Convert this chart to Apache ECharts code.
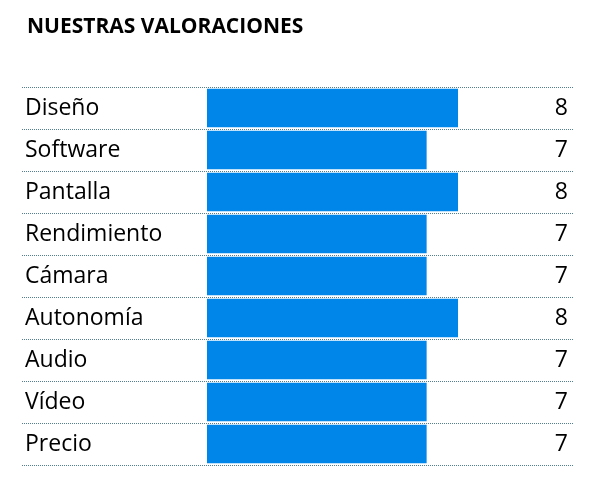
<!DOCTYPE html><html><head><meta charset="utf-8"><script src="https://cdn.jsdelivr.net/npm/echarts@6/dist/echarts.min.js"></script></head><body style="margin:0"><div id="c" style="width:594px;height:490px"></div><script>
const categories=["Diseño","Software","Pantalla","Rendimiento","Cámara","Autonomía","Audio","Vídeo","Precio"];
const values=[8,7,8,7,7,8,7,7,7];
const c=echarts.init(document.getElementById('c'));
c.setOption({
title:{text:"NUESTRAS VALORACIONES",left:22,top:12,textStyle:{fontFamily:"Open Sans",fontWeight:"bold",fontSize:21,color:"#000"}},
grid:{left:22,right:21,top:87,bottom:25},
xAxis:{type:"value",min:-5.896,max:11.665,show:false},
yAxis:[{type:"category",data:categories,inverse:true,axisLine:{show:false},axisTick:{show:false},
 splitLine:{show:true,lineStyle:{type:"dotted",color:"#4f7f90",width:1}},
 axisLabel:{inside:true,margin:3,color:"#000",fontFamily:"Open Sans",fontSize:23}},
{type:"category",data:values,inverse:true,position:"right",axisLine:{show:false},axisTick:{show:false},
 axisLabel:{inside:true,margin:5,color:"#000",fontFamily:"Open Sans",fontSize:23}}],
series:[{type:"bar",data:values,barCategoryGap:"8%",itemStyle:{color:"#0086e8"},silent:true}]
});
</script></body></html>
